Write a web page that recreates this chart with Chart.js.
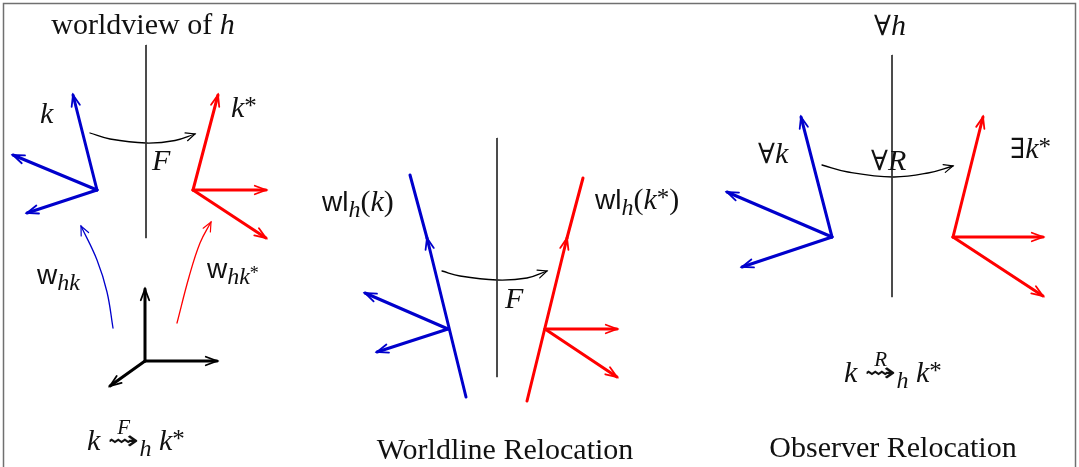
<!DOCTYPE html>
<html>
<head>
<meta charset="utf-8">
<script src="https://cdn.jsdelivr.net/npm/chart.js@4/dist/chart.umd.min.js"></script>
<style>
  html, body { margin: 0; padding: 0; background: #fff; }
  canvas { display: block; }
</style>
</head>
<body>
<canvas id="myChart" width="1079" height="467"></canvas>
<script>
// vertical worldline of h in each panel: x1, y1, x2, y2
var hAxes = [[146, 45, 146, 238], [497, 138, 497, 377], [892, 55, 892, 297]];

// frame vectors: origin x, origin y, tip x, tip y
var blueVectors = [
    [97, 190, 73, 95], [97, 190, 13, 155], [97, 190, 27, 213],
    [448, 329, 365, 293], [448, 329, 377, 352],
    [832, 237, 801, 117], [832, 237, 727, 192], [832, 237, 742, 267]
];
var redVectors = [
    [193, 190, 218, 95], [193, 190, 266, 190], [193, 190, 266, 238],
    [545, 329, 617, 329], [545, 329, 617, 377],
    [953, 237, 983, 117], [953, 237, 1043, 237], [953, 237, 1043, 296]
];
var blackVectors = [[145, 361, 145, 289], [145, 361, 217, 361], [145, 361, 110, 386]];

// worldlines: bottom, arrow tip, top
var blueWorldline = [[466, 397], [427, 238], [410, 175]];
var redWorldline = [[527, 401], [567, 238], [583, 178]];

// curved arrows: points along the curve, start to end
var mapArrows = [
    [[90, 133], [110, 139], [146, 143], [175, 140.5], [195, 134]],
    [[442, 271], [460, 276], [497, 280], [527, 278], [547, 271]],
    [[822, 165], [848, 172], [893, 177], [928, 173], [953, 166]]
];
var blueCurve = [[113, 328], [107, 292], [97, 260], [81, 226]];
var redCurve = [[177, 323], [189, 277], [200, 243], [211, 222]];

var BLUE = '#0000cc', RED = '#ff0000', BLACK = '#000000';

function line(points, color, width, arrow, tension) {
    return {
        type: 'line',
        data: points.map(function (p) { return { x: p[0], y: p[1] }; }),
        borderColor: color,
        borderWidth: width,
        borderCapStyle: 'round',
        pointRadius: 0,
        showLine: true,
        fill: false,
        tension: tension || 0,
        arrow: arrow
    };
}

var datasets = [];
hAxes.forEach(function (a) { datasets.push(line([[a[0], a[1]], [a[2], a[3]]], '#333', 1, false)); });
blueVectors.forEach(function (v) { datasets.push(line([[v[0], v[1]], [v[2], v[3]]], BLUE, 3, true)); });
redVectors.forEach(function (v) { datasets.push(line([[v[0], v[1]], [v[2], v[3]]], RED, 3, true)); });
blackVectors.forEach(function (v) { datasets.push(line([[v[0], v[1]], [v[2], v[3]]], BLACK, 3, true)); });
datasets.push(line(blueWorldline.slice(0, 2), BLUE, 3, true));
datasets.push(line(blueWorldline.slice(1), BLUE, 3, false));
datasets.push(line(redWorldline.slice(0, 2), RED, 3, true));
datasets.push(line(redWorldline.slice(1), RED, 3, false));
mapArrows.forEach(function (c) { datasets.push(line(c, BLACK, 1.3, true, 0.4)); });
datasets.push(line(blueCurve, BLUE, 1.3, true, 0.4));
datasets.push(line(redCurve, RED, 1.3, true, 0.4));

// text styles
var fonts = {
    rm: '30px "Liberation Serif", "DejaVu Serif", serif',
    it: 'italic 30px "Liberation Serif", "DejaVu Serif", serif',
    sym: '28px "DejaVu Serif", serif',
    sf: '28px "Liberation Sans", "DejaVu Sans", sans-serif',
    sub: 'italic 24px "Liberation Serif", serif',
    sup: '25px "Liberation Serif", serif',
    ssup: '18px "Liberation Serif", serif',
    arr: '26px "DejaVu Sans", sans-serif',
    over: 'italic 21px "Liberation Serif", serif'
};
var shifts = { sub: 6, sup: -3, ssup: 1, arr: -1 };
var stretch = { arr: 1.45 };

// labels: x, y, alignment, runs [text, style, text over it]
var labels = [
    [143, 34, 'center', [['worldview of ', 'rm'], ['h', 'it']]],
    [40, 123, 'left', [['k', 'it']]],
    [231, 117, 'left', [['k', 'it'], ['*', 'sup']]],
    [152, 170, 'left', [['F', 'it']]],
    [37, 284, 'left', [['w', 'sf'], ['hk', 'sub']]],
    [207, 278, 'left', [['w', 'sf'], ['hk', 'sub'], ['*', 'ssup']]],
    [87, 450, 'left', [['k', 'it'], [' ', 'rm'], ['\u21DD', 'arr', 'F'], ['h', 'sub'], [' ', 'rm'], ['k', 'it'], ['*', 'sup']]],
    [322, 211, 'left', [['wl', 'sf'], ['h', 'sub'], ['(', 'rm'], ['k', 'it'], [')', 'rm']]],
    [595, 209, 'left', [['wl', 'sf'], ['h', 'sub'], ['(', 'rm'], ['k', 'it'], ['*', 'sup'], [')', 'rm']]],
    [505, 308, 'left', [['F', 'it']]],
    [505, 459, 'center', [['Worldline Relocation', 'rm']]],
    [890, 35, 'center', [['\u2200', 'sym'], ['h', 'it']]],
    [758, 163, 'left', [['\u2200', 'sym'], ['k', 'it']]],
    [871, 170, 'left', [['\u2200', 'sym'], ['R', 'it']]],
    [1010, 158, 'left', [['\u2203', 'sym'], ['k', 'it'], ['*', 'sup']]],
    [844, 382, 'left', [['k', 'it'], [' ', 'rm'], ['\u21DD', 'arr', 'R'], ['h', 'sub'], [' ', 'rm'], ['k', 'it'], ['*', 'sup']]],
    [893, 457, 'center', [['Observer Relocation', 'rm']]]
];

var framePlugin = {
    id: 'frame',
    beforeDraw: function (chart) {
        var ctx = chart.ctx;
        ctx.save();
        ctx.fillStyle = '#fff';
        ctx.fillRect(0, 0, chart.width, chart.height);
        ctx.strokeStyle = '#707070';
        ctx.lineWidth = 1.5;
        ctx.strokeRect(3.5, 3.5, 1072, 500);
        ctx.restore();
    }
};

var arrowPlugin = {
    id: 'arrows',
    afterDatasetsDraw: function (chart) {
        var ctx = chart.ctx;
        chart.data.datasets.forEach(function (ds, i) {
            if (!ds.arrow) return;
            var pts = chart.getDatasetMeta(i).data;
            var p = pts[pts.length - 1], q = pts[pts.length - 2];
            var fx = q.x, fy = q.y;
            if (ds.tension && p.cp1x !== undefined) { fx = p.cp1x; fy = p.cp1y; }
            var ang = Math.atan2(p.y - fy, p.x - fx);
            var thick = ds.borderWidth > 2;
            var len = thick ? 12 : 10, spread = thick ? 0.36 : 0.42;
            ctx.save();
            ctx.strokeStyle = ds.borderColor;
            ctx.lineWidth = thick ? 1.8 : 1.2;
            ctx.lineCap = 'round';
            ctx.beginPath();
            ctx.moveTo(p.x - len * Math.cos(ang - spread), p.y - len * Math.sin(ang - spread));
            ctx.lineTo(p.x, p.y);
            ctx.lineTo(p.x - len * Math.cos(ang + spread), p.y - len * Math.sin(ang + spread));
            ctx.stroke();
            ctx.restore();
        });
    }
};

var labelPlugin = {
    id: 'labels',
    afterDraw: function (chart) {
        var ctx = chart.ctx, sx = chart.scales.x, sy = chart.scales.y;
        ctx.save();
        ctx.fillStyle = '#111';
        ctx.textBaseline = 'alphabetic';
        ctx.textAlign = 'left';
        labels.forEach(function (lb) {
            var x = sx.getPixelForValue(lb[0]), y = sy.getPixelForValue(lb[1]);
            var total = 0;
            var widths = lb[3].map(function (r) {
                ctx.font = fonts[r[1]];
                var w = ctx.measureText(r[0]).width * (stretch[r[1]] || 1);
                total += w;
                return w;
            });
            var cx = lb[2] === 'center' ? x - total / 2 : x;
            lb[3].forEach(function (r, j) {
                ctx.font = fonts[r[1]];
                ctx.save();
                ctx.translate(cx, y + (shifts[r[1]] || 0));
                ctx.scale(stretch[r[1]] || 1, 1);
                ctx.fillText(r[0], 0, 0);
                ctx.restore();
                if (r[2]) {
                    ctx.font = fonts.over;
                    var ow = ctx.measureText(r[2]).width;
                    ctx.fillText(r[2], cx + widths[j] / 2 - ow / 2, y - 16);
                }
                cx += widths[j];
            });
        });
        ctx.restore();
    }
};

var myCrt = document.getElementById('myChart');
var diagram = new Chart(myCrt, {
    type: 'scatter',
    data: { datasets: datasets },
    options: {
        responsive: false,
        animation: false,
        layout: { padding: 0 },
        plugins: { legend: { display: false }, tooltip: { enabled: false } },
        scales: {
            x: { type: 'linear', min: 0, max: 1079, display: false },
            y: { type: 'linear', min: 0, max: 467, reverse: true, display: false }
        }
    },
    plugins: [framePlugin, arrowPlugin, labelPlugin]
});
</script>
</body>
</html>
